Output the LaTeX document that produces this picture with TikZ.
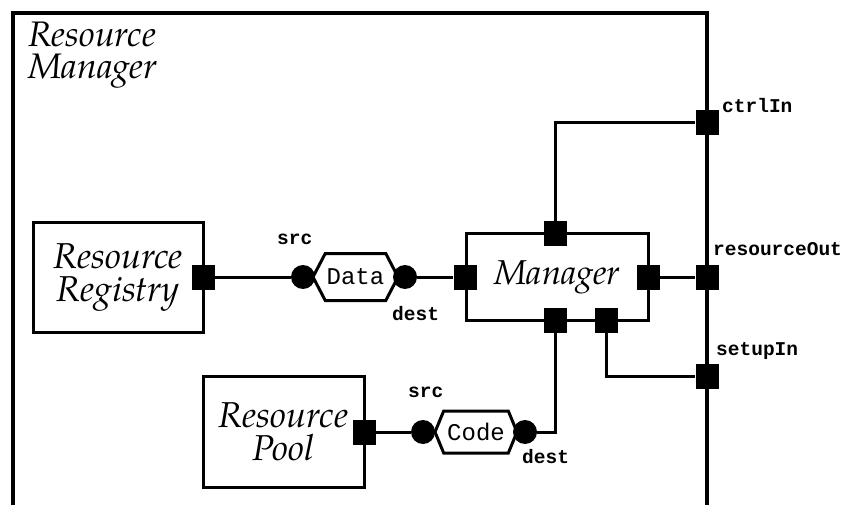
\documentclass[tikz,border=0pt]{standalone}
\usepackage{fontspec}
\setmonofont{Liberation Mono}
\newfontfamily\serifit{TeX Gyre Pagella}
\usetikzlibrary{shapes.symbols}
\newcommand\blkfont{\fontsize{36}{33}\selectfont\serifit\itshape}
\newcommand\mgrfont{\fontsize{34.5}{33}\selectfont\serifit\itshape}
\newcommand\titlefnt{\fontsize{35.5}{32}\selectfont\serifit\itshape}
\newcommand\hexfont{\fontsize{24}{24}\selectfont\ttfamily}
\newcommand\lblfont{\fontsize{19.5}{20}\selectfont\ttfamily\bfseries}
\begin{document}
\begin{tikzpicture}[x=1pt,y=-1pt]
\tikzset{
 port/.style={fill=black, draw=none, minimum width=23, minimum height=25, inner sep=0},
 endpt/.style={circle, fill=black, draw=none, minimum size=24, inner sep=0},
 blk/.style={draw, line width=3, fill=white, inner sep=0, align=center, font=\blkfont},
 hexbox/.style={draw, line width=3, fill=white, signal, signal to=east and west, inner sep=0, font=\hexfont},
 lbl/.style={font=\lblfont, inner sep=0, anchor=base west},
 wire/.style={line width=3}
}
\useasboundingbox (0,0) rectangle (846,505);
\draw[line width=3.5] (13,505) -- (13,13) -- (707,13) -- (707,505);
\node[anchor=base west, font=\titlefnt, align=left, inner sep=0] (title) at (28,79) {Resource\\Manager};

\node[blk, minimum width=170, minimum height=109] (reg) at (118,277.5) {Resource\\Registry};
\node[blk, minimum width=161, minimum height=111] (pool) at (283.5,431.5) {Resource\\Pool};
\node[blk, font=\mgrfont, minimum width=182, minimum height=86] (mgr) at (557,277) {Manager};

\node[port] (regp) at (203,277) {};
\node[port] (poolp) at (364,432) {};
\node[port] (mL) at (465,277) {};
\node[port] (mT) at (555,234) {};
\node[port] (mR) at (648,277) {};
\node[port] (mB1) at (555,320) {};
\node[port] (mB2) at (606,320) {};
\node[port] (pCtrl) at (707,123) {};
\node[port] (pRes) at (707,277) {};
\node[port] (pSetup) at (707,376) {};

\node[hexbox, minimum width=85, minimum height=47, signal pointer angle=125] (data) at (355.5,277) {Data};
\node[endpt] (dsrc) at (303,277) {};
\node[endpt] (ddst) at (405,277) {};
\node[hexbox, minimum width=82, minimum height=42, signal pointer angle=135] (code) at (476,432) {Code};
\node[endpt] (csrc) at (423,432) {};
\node[endpt] (cdst) at (525,432) {};

\draw[wire] (regp) -- (dsrc);
\draw[wire] (ddst) -- (mL);
\draw[wire] (mT) |- (pCtrl);
\draw[wire] (mR) -- (pRes);
\draw[wire] (mB2) |- (pSetup);
\draw[wire] (poolp) -- (csrc);
\draw[wire] (cdst) -| (mB1);

\node[lbl] (lsrc1) at (277,244) {src};
\node[lbl] (ldst1) at (392,320) {dest};
\node[lbl] (lsrc2) at (408,397) {src};
\node[lbl] (ldst2) at (522,463) {dest};
\node[lbl] (lctrl) at (722,113) {ctrlIn};
\node[lbl] (lres) at (713,255) {resourceOut};
\node[lbl] (lset) at (716,355) {setupIn};
\end{tikzpicture}
\end{document}
